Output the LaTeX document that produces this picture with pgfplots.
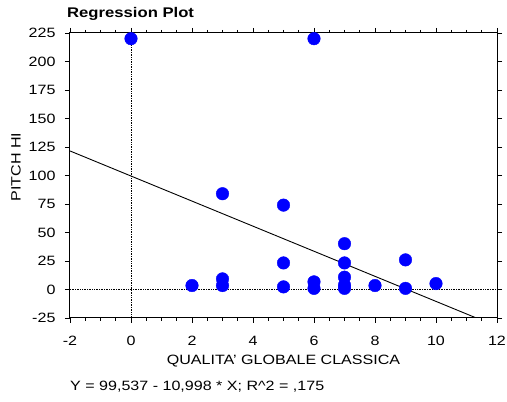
\documentclass[border=0pt]{standalone}
\usepackage{fontspec}
\setmainfont{Liberation Sans}[FakeStretch=1.19]
\usepackage{pgfplots}
\pgfplotsset{compat=1.18}
\begin{document}
\begin{tikzpicture}[x=1pt,y=1pt]
\useasboundingbox (0,0) rectangle (507,402);
\begin{axis}[
  at={(70pt,84pt)}, anchor=south west,
  scale only axis, width=427pt, height=285pt,
  xmin=-2, xmax=12, ymin=-25, ymax=225,
  xtick={-2,0,...,12}, ytick={-25,0,...,225},
  minor x tick num=3,
  tick align=outside,
  major tick length=5pt, minor tick length=3pt,
  tick style={black, line width=0.8pt},
  axis line style={line width=1pt},
  ticklabel style={font=\fontsize{13.5}{15}\selectfont},
  xticklabel style={yshift=-10pt},
  yticklabel style={xshift=-6pt},
  /pgf/number format/assume math mode=true,
  /pgf/number format/1000 sep={},
]
\addplot[black, densely dotted, line width=0.7pt] coordinates {(0,-25) (0,225)};
\addplot[black, densely dotted, line width=0.7pt] coordinates {(-2,0) (12,0)};
\addplot[black, line width=0.9pt] coordinates {(-2,121.533) (11.324,-25)};
\addplot[only marks, mark=*, mark size=6.3pt, color={rgb,255:red,0;green,0;blue,255}] coordinates {
(0,220) (6,220) (2,3.5) (3,84) (3,9.3) (3,3.5) (5,74) (5,23.3) (5,2.3)
(6,6.7) (6,1) (7,40.2) (7,23.3) (7,10.8) (7,3.8) (7,1) (8,3.5) (9,26) (9,1) (10,5.2)
};
\end{axis}
\node[anchor=west, inner sep=0pt, font=\fontsize{14}{16}\selectfont\bfseries] at (67,388) {Regression Plot};
\node[font=\fontsize{13.5}{15}\selectfont] at (283.5,41) {QUALITA' GLOBALE CLASSICA};
\node[rotate=90, font=\fontsize{13.5}{15}\selectfont] at (16,235) {PITCH HI};
\node[anchor=west, inner sep=0pt, font=\fontsize{13.5}{15}\selectfont] at (70,15) {Y = 99,537 - 10,998 * X; R\textasciicircum 2 = ,175};
\end{tikzpicture}
\end{document}
